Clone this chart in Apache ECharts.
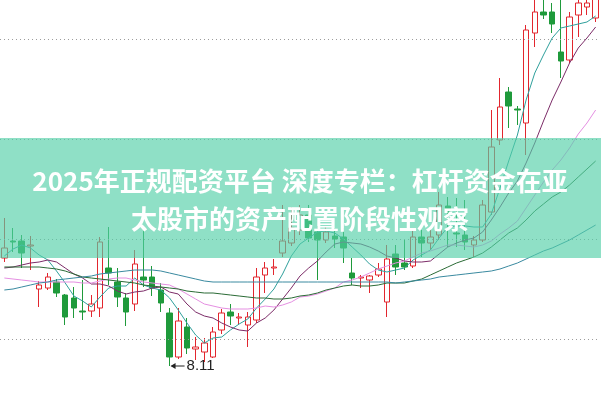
<!DOCTYPE html>
<html><head><meta charset="utf-8">
<script src="https://cdn.jsdelivr.net/npm/echarts@6/dist/echarts.min.js"></script>
<style>html,body{margin:0;padding:0;background:#fff}#c{width:601px;height:399px}</style>
</head><body><div id="c"></div>
<script>
const openP = [9.19,9.36,9.36,9.31,8.88,8.89,8.95,8.82,8.79,8.66, 8.66,8.69,9.09,8.95,8.79,8.73,9.00,9.00,8.87,8.64, 8.20,8.50,8.28,8.25,8.20,8.47,8.65,8.59,8.52,8.57, 9.02,9.09,9.24,9.34,9.47,9.62,9.45,9.37,9.41,9.40, 9.04,8.99,8.97,9.02,8.75,9.23,9.14,9.11,9.40,9.34, 9.42,9.71,9.44,9.42,9.32,9.37,9.65,10.37,10.85,10.68, 10.54,11.44,11.65,11.65,11.25,11.17,11.62,11.70,11.59];
const closeP = [9.29,9.35,9.24,9.32,8.92,9.00,8.84,8.60,8.69,8.65, 8.73,9.35,9.04,8.80,8.65,9.13,8.97,8.89,8.74,8.20, 8.56,8.29,8.30,8.34,8.45,8.64,8.61,8.60,8.60,9.00, 9.09,9.10,9.36,9.49,9.62,9.39,9.37,9.45,9.38,9.29, 8.99,9.00,9.01,9.08,9.18,9.10,9.10,9.40,9.34,9.40, 9.72,9.65,9.43,9.35,9.37,9.72,10.30,10.70,10.71,10.67, 11.47,11.65,11.62,11.53,11.16,11.60,11.74,11.74,11.79];
const lowP = [9.15,9.25,9.09,9.07,8.70,8.87,8.80,8.52,8.59,8.57, 8.60,8.60,8.92,8.70,8.51,8.66,8.90,8.81,8.65,8.11, 8.18,8.23,8.17,8.15,8.19,8.43,8.52,8.52,8.30,8.54, 8.84,9.02,9.20,9.31,9.42,9.35,8.97,9.34,9.29,9.14, 8.92,8.89,8.84,9.00,8.60,9.02,9.07,9.09,9.20,9.27, 9.37,9.30,9.30,9.27,9.20,9.35,9.62,10.32,10.49,10.52, 10.22,11.30,11.58,11.44,10.99,11.14,11.40,11.62,11.55];
const highP = [9.59,9.49,9.42,9.41,8.96,9.04,8.98,8.83,8.90,8.97, 8.82,9.40,9.50,9.09,8.84,9.27,9.51,9.11,8.94,8.69, 8.69,8.59,8.40,8.39,8.50,8.68,8.73,8.64,8.65,9.09, 9.15,9.18,9.72,9.70,9.72,9.72,9.51,9.51,9.49,9.49, 9.19,9.02,9.02,9.14,9.32,9.32,9.37,9.47,9.47,9.49, 9.85,9.80,9.79,9.77,9.41,9.77,10.67,10.99,10.90,10.71, 11.52,11.87,11.85,11.74,11.87,11.65,11.85,11.82,11.87];

const ma5 = [9.21,9.28,9.32,9.29,9.22,9.17,9.06,8.94,8.81,8.76, 8.70,8.80,8.89,8.91,8.91,8.99,8.92,8.89,8.87,8.79, 8.67,8.54,8.42,8.34,8.39,8.40,8.47,8.53,8.58,8.69, 8.78,8.88,9.03,9.21,9.33,9.39,9.45,9.46,9.44,9.38, 9.30,9.22,9.13,9.07,9.05,9.07,9.09,9.17,9.22,9.27, 9.39,9.50,9.51,9.51,9.50,9.50,9.63,9.89,10.16,10.42, 10.77,11.04,11.22,11.39,11.49,11.51,11.53,11.55,11.61];
const ma10 = [9.09,9.10,9.12,9.14,9.15,9.17,9.15,9.09,9.03,8.99, 8.93,8.93,8.91,8.86,8.83,8.85,8.86,8.89,8.90,8.85, 8.83,8.73,8.65,8.61,8.59,8.54,8.50,8.47,8.46,8.54, 8.59,8.67,8.78,8.89,9.01,9.09,9.16,9.25,9.33,9.35, 9.34,9.33,9.30,9.26,9.21,9.19,9.16,9.15,9.15,9.16, 9.23,9.30,9.34,9.37,9.39,9.45,9.57,9.70,9.84,9.96, 10.14,10.34,10.56,10.77,10.95,11.14,11.29,11.39,11.50];
const ma20 = [8.99,8.98,8.97,8.96,8.95,8.95,8.95,8.95,8.95,8.94, 8.94,8.96,8.98,8.99,8.99,8.97,8.95,8.94,8.93,8.92, 8.88,8.83,8.78,8.73,8.71,8.69,8.68,8.68,8.68,8.69, 8.71,8.70,8.72,8.75,8.80,8.81,8.83,8.86,8.89,8.95, 8.97,9.00,9.04,9.08,9.11,9.14,9.16,9.20,9.24,9.26, 9.29,9.32,9.32,9.31,9.30,9.32,9.36,9.43,9.49,9.56, 9.69,9.82,9.95,10.07,10.17,10.29,10.43,10.54,10.67];
const ma30 = [9.10,9.10,9.10,9.10,9.10,9.09,9.08,9.06,9.03,9.00, 8.99,8.98,8.97,8.96,8.95,8.94,8.92,8.91,8.90,8.89, 8.88,8.86,8.85,8.84,8.84,8.83,8.82,8.81,8.80,8.79, 8.79,8.78,8.78,8.79,8.81,8.82,8.84,8.87,8.89,8.91, 8.92,8.91,8.91,8.92,8.94,8.94,8.94,8.96,8.98,9.02, 9.06,9.10,9.14,9.17,9.20,9.24,9.30,9.37,9.44,9.49, 9.57,9.66,9.73,9.80,9.85,9.92,10.00,10.08,10.16];
const ma60 = [8.87,8.88,8.90,8.92,8.94,8.95,8.97,8.98,8.99,9.00, 9.01,9.03,9.04,9.05,9.06,9.07,9.07,9.07,9.06,9.04, 9.02,9.00,8.98,8.96,8.95,8.95,8.95,8.95,8.95,8.95, 8.95,8.95,8.95,8.95,8.95,8.95,8.95,8.95,8.95,8.95, 8.95,8.95,8.95,8.95,8.95,8.94,8.95,8.96,8.97,8.98, 9.00,9.01,9.02,9.03,9.04,9.05,9.06,9.08,9.11,9.14, 9.18,9.22,9.26,9.29,9.33,9.37,9.42,9.47,9.52];

const gridLevels = [11.385, 10.385, 9.385, 8.385];
const titleLine1 = '2025年正规配资平台 深度专栏：杠杆资金在亚';
const titleLine2 = '太股市的资产配置阶段性观察';
const yMin = 7.78, yMax = 11.77;

const categories = openP.map((_, i) => 'D' + (i + 1));
const ohlc = openP.map((o, i) => [o, closeP[i], lowP[i], highP[i]]);

const chart = echarts.init(document.getElementById('c'), null, {renderer: 'canvas'});

function maSeries(name, data, color) {
  return {name, type: 'line', data, symbol: 'none', smooth: false, silent: true, z: 4,
    lineStyle: {color, width: 1}};
}

chart.setOption({
  animation: false,
  backgroundColor: '#ffffff',
  grid: {left: -2, right: 1, top: 0, bottom: 0},
  xAxis: {type: 'category', data: categories, show: false, boundaryGap: true},
  yAxis: {type: 'value', min: yMin, max: yMax, show: false, splitLine: {show: false}, scale: true},
  series: [
    {type: 'line', data: [], z: 0, silent: true,
      markLine: {silent: true, symbol: ['none', 'none'], label: {show: false},
        lineStyle: {color: '#9c9c9c', type: [1, 3], width: 1},
        data: gridLevels.map(v => ({yAxis: v}))}},
    {type: 'candlestick', data: ohlc, barWidth: 6, z: 3, silent: true,
      itemStyle: {color: '#ffffff', color0: '#1f9a3b', borderColor: '#e2262e', borderColor0: '#1f9a3b', borderWidth: 1}},
    maSeries('MA5', ma5, '#2fa09c'),
    maSeries('MA10', ma10, '#7c2c68'),
    maSeries('MA20', ma20, '#e58fe2'),
    maSeries('MA30', ma30, '#2b6b36'),
    maSeries('MA60', ma60, '#3a8aa0')
  ]
});

let lowIdx = 0;
lowP.forEach((v, i) => { if (v < lowP[lowIdx]) lowIdx = i; });
const p = chart.convertToPixel({xAxisIndex: 0, yAxisIndex: 0}, [categories[lowIdx], lowP[lowIdx]]);
const ax = p[0], ay = p[1];

chart.setOption({
  graphic: [
    {id: 'banner', type: 'rect', z: 100, silent: true,
      shape: {x: 0, y: 138, width: 601, height: 120},
      style: {fill: 'rgba(83,208,168,0.65)'}},
    {id: 't1', type: 'text', z: 101, silent: true, x: 300, y: 181,
      style: {text: titleLine1, fill: '#ffffff', font: 'bold 26px "Noto Sans CJK SC", sans-serif',
        align: 'center', verticalAlign: 'middle', textAlign: 'center', textVerticalAlign: 'middle'}},
    {id: 't2', type: 'text', z: 101, silent: true, x: 300, y: 219,
      style: {text: titleLine2, fill: '#ffffff', font: 'bold 26px "Noto Sans CJK SC", sans-serif',
        align: 'center', verticalAlign: 'middle', textAlign: 'center', textVerticalAlign: 'middle'}},
    {id: 'arrLine', type: 'line', z: 50, silent: true,
      shape: {x1: ax + 2, y1: ay, x2: ax + 15, y2: ay},
      style: {stroke: '#222', lineWidth: 1}},
    {id: 'arrHead', type: 'polygon', z: 50, silent: true,
      shape: {points: [[ax + 1, ay], [ax + 6, ay - 3], [ax + 6, ay + 3]]},
      style: {fill: '#222'}},
    {id: 'lowTxt', type: 'text', z: 50, silent: true, x: ax + 17, y: ay,
      style: {text: lowP[lowIdx].toFixed(2), fill: '#222', font: '15px "Liberation Sans", Arial, sans-serif',
        align: 'left', verticalAlign: 'middle', textAlign: 'left', textVerticalAlign: 'middle'}}
  ]
});
</script>
</body></html>
